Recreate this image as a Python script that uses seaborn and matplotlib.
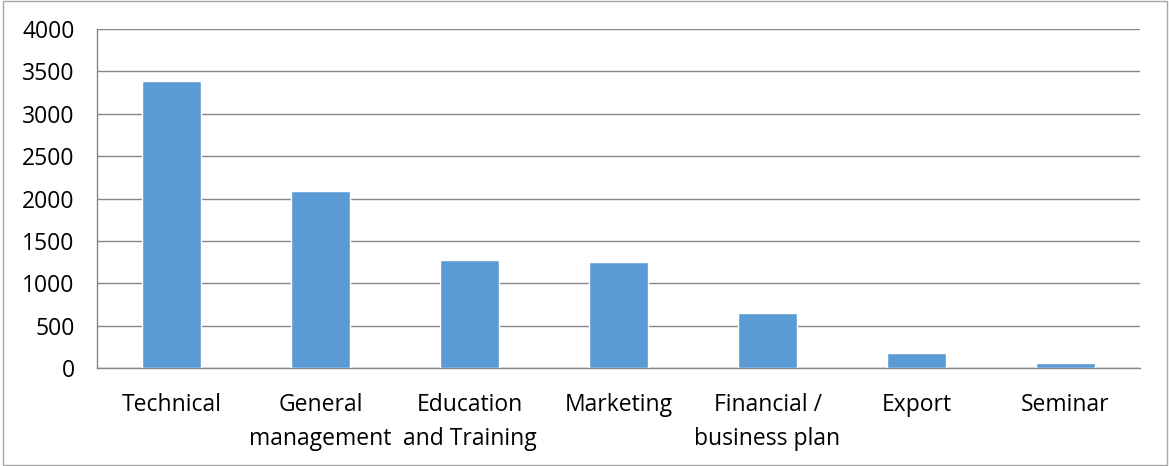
import matplotlib
matplotlib.use("Agg")
import matplotlib.pyplot as plt
import seaborn as sns
import pandas as pd
from matplotlib.patches import Rectangle

categories = ["Technical", "General\nmanagement", "Education\nand Training", "Marketing",
              "Financial /\nbusiness plan", "Export", "Seminar"]
values = [3380, 2085, 1272, 1252, 651, 180, 59]
yticks = [0, 500, 1000, 1500, 2000, 2500, 3000, 3500, 4000]

sns.set_theme(style="white")
plt.rcParams['font.family'] = ['Open Sans', 'DejaVu Sans']

df = pd.DataFrame({"cat": categories, "val": values})

fig = plt.figure(figsize=(11.69, 4.66), dpi=100)
ax = fig.add_axes([97/1169, 1 - 368.3/466, (1140-97)/1169, (368.3-28.7)/466])

sns.barplot(data=df, x="cat", y="val", color="#5B9BD5", width=0.4, saturation=1, ax=ax, zorder=3)

ax.set_ylim(0, 4000)
ax.set_xlim(-0.5, len(categories) - 0.5)
ax.set_yticks(yticks)
ax.set_yticklabels([str(t) for t in yticks], fontsize=16.5, color="#000000")
ax.yaxis.grid(True, color="#868686", linewidth=1, zorder=0)
ax.set_axisbelow(True)
ax.set_xlabel("")
ax.set_ylabel("")

# category labels at centers, tick marks at boundaries
ax.set_xticks(range(len(categories)))
ax.set_xticklabels(categories, fontsize=16.5, color="#000000", linespacing=1.55)
ax.tick_params(axis="x", length=0, pad=18)
ax.set_xticks([i - 0.5 for i in range(len(categories) + 1)], minor=True)
ax.tick_params(axis="x", which="minor", length=8, color="#868686", width=1, direction="out")
ax.tick_params(axis="y", length=8, color="#868686", width=1, direction="out", pad=8)

for s in ["top", "right"]:
    ax.spines[s].set_visible(False)
for s in ["left", "bottom"]:
    ax.spines[s].set_color("#868686")
    ax.spines[s].set_linewidth(1)

fig.patches.append(Rectangle((3/1169, 1/466), 1164/1169, 464/466, transform=fig.transFigure,
                             fill=False, edgecolor="#A6A6A6", linewidth=1))

fig.savefig("out.png", dpi=100)
